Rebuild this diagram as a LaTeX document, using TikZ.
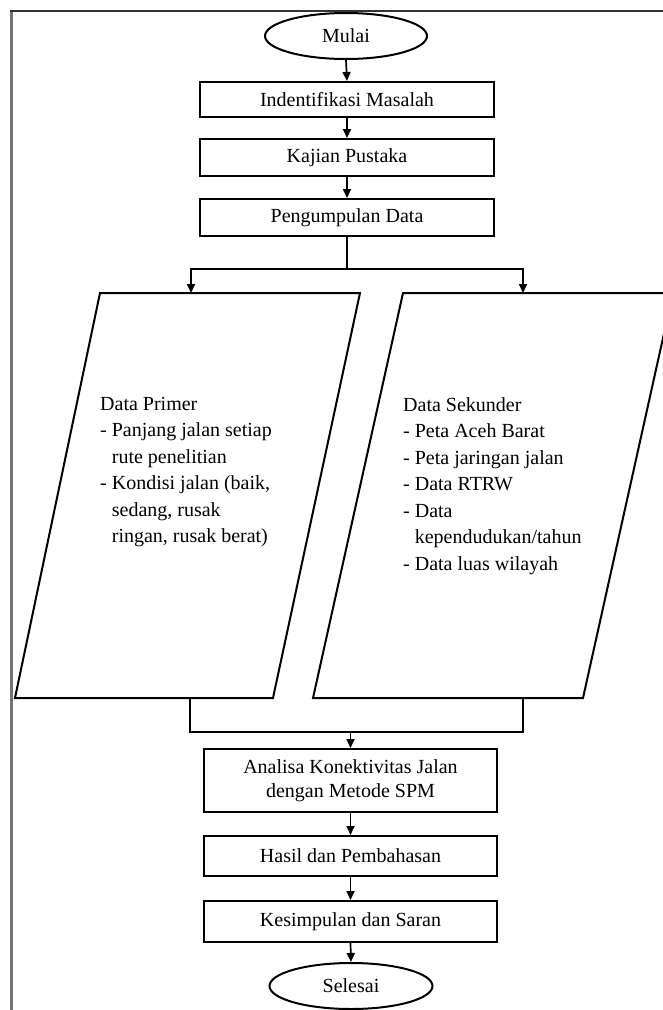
\documentclass[tikz,border=0pt]{standalone}
\usepackage{fontspec}
\setmainfont{Liberation Serif}
\usetikzlibrary{shapes.geometric,arrows.meta}
\begin{document}
\begin{tikzpicture}[x=1pt,y=-1pt,
  box/.style={draw, line width=2pt, rectangle, inner sep=0pt, align=center,
    font=\fontsize{20}{24}\selectfont},
  term/.style={draw, ellipse, line width=2pt, inner sep=0pt,
    minimum width=162pt, minimum height=46pt, font=\fontsize{20}{24}\selectfont},
  conn/.style={line width=1.7pt},
  arr/.style={conn, -{Triangle[length=9pt,width=8pt]}},
  para/.style={draw, line width=2pt, line join=miter},
  lst/.style={anchor=north west, inner sep=0pt, align=left,
    font=\fontsize{20}{26.5}\selectfont}]
\useasboundingbox (0,0) rectangle (663,1010);
\clip (0,0) rectangle (663,1010);
% frame
\draw[line width=3.5pt, black!55] (11.7,1012) -- (11.7,11);
\draw[line width=2.5pt, black!80] (10,11) -- (665,11);
% terminals and boxes
\node[term] (mulai) at (346,36) {Mulai};
\node[box, minimum width=294pt, minimum height=35pt] (ident) at (347,99.5) {Indentifikasi Masalah};
\node[box, minimum width=294pt, minimum height=37pt] (kajian) at (347,157.5) {Kajian Pustaka};
\node[box, minimum width=294pt, minimum height=37pt] (kumpul) at (347,217.5) {Pengumpulan Data};
\node[box, minimum width=293pt, minimum height=63pt] (analisa) at (350.5,780.5) {Analisa Konektivitas Jalan\\dengan Metode SPM};
\node[box, minimum width=293pt, minimum height=40pt] (hasil) at (350.5,856) {Hasil dan Pembahasan};
\node[box, minimum width=293pt, minimum height=41pt] (simpul) at (350.5,921.5) {Kesimpulan dan Saran};
\node[term, minimum width=163pt] (selesai) at (351,986) {Selesai};
% parallelograms
\coordinate (plA) at (100,293); \coordinate (plB) at (360,293);
\coordinate (plC) at (273,698); \coordinate (plD) at (15,698);
\coordinate (prA) at (403,293); \coordinate (prB) at (673,293);
\coordinate (prC) at (583,698); \coordinate (prD) at (313,698);
\draw[para] (plA) -- (plB) -- (plC) -- (plD) -- cycle;
\draw[para] (prA) -- (prB) -- (prC) -- (prD) -- cycle;
\node[lst] (primer) at (100,397) {Data Primer\\
- Panjang jalan setiap\\
\phantom{- }rute penelitian\\
- Kondisi jalan (baik,\\
\phantom{- }sedang, rusak\\
\phantom{- }ringan, rusak berat)};
\node[lst] (sekunder) at (403,397) {Data Sekunder\\
- Peta Aceh Barat\\
- Peta jaringan jalan\\
- Data RTRW\\
- Data\\
\phantom{- }kependudukan/tahun\\
- Data luas wilayah};
% connectors
\draw[arr] (mulai.south) -- (ident.north);
\draw[arr] (ident.south) -- (kajian.north);
\draw[arr] (kajian.south) -- (kumpul.north);
\coordinate (sp) at (347,269);
\coordinate (spl) at (191,269);
\coordinate (spr) at (523,269);
\coordinate (inl) at (191,293);
\coordinate (inr) at (523,293);
\draw[conn] (kumpul.south) -- (sp);
\draw[conn, line cap=rect] (spl) -- (spr);
\draw[arr] (spl) -- (inl);
\draw[arr] (spr) -- (inr);
\coordinate (outl) at (190,698);
\coordinate (outr) at (523,698);
\coordinate (mgl) at (190,732);
\coordinate (mgr) at (523,732);
\coordinate (mgc) at (350.5,732);
\draw[conn, line join=miter] (outl) -- (mgl) -- (mgr) -- (outr);
\draw[arr] (mgc) -- (analisa.north);
\draw[arr] (analisa.south) -- (hasil.north);
\draw[arr] (hasil.south) -- (simpul.north);
\draw[arr] (simpul.south) -- (selesai.north);
\end{tikzpicture}
\end{document}
